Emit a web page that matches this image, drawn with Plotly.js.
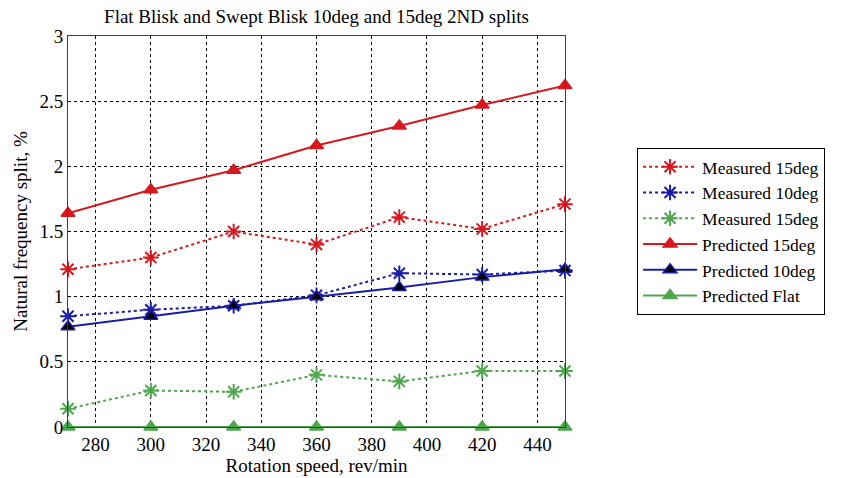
<!DOCTYPE html>
<html>
<head>
<meta charset="utf-8">
<script src="https://cdn.plot.ly/plotly-3.0.1.min.js"></script>
<style>
  html, body { margin: 0; padding: 0; background: #ffffff; }
  #chart { width: 847px; height: 478px; }
</style>
</head>
<body>
<div id="chart"></div>
<script>
// Rotation speed (rev/min)
const speeds = [270, 300, 330, 360, 390, 420, 450];

// Natural frequency split, %
const measured15 = [1.21, 1.30, 1.50, 1.40, 1.61, 1.52, 1.71];
const measured10 = [0.85, 0.90, 0.93, 1.01, 1.18, 1.17, 1.20];
const measuredFlat = [0.14, 0.28, 0.27, 0.40, 0.35, 0.43, 0.43];
const predicted15 = [1.64, 1.82, 1.97, 2.16, 2.31, 2.47, 2.62];
const predicted10 = [0.77, 0.85, 0.93, 1.00, 1.07, 1.15, 1.21];
const predictedFlat = [0, 0, 0, 0, 0, 0, 0];

const seriesNames = [
  'Measured 15deg', 'Measured 10deg', 'Measured 15deg',
  'Predicted 15deg', 'Predicted 10deg', 'Predicted Flat'
];

const RED = '#d7191f';
const BLUE = '#1c1ca6';
const GREEN = '#4ea64e';
const FONT = 'Liberation Serif, Times New Roman, serif';
const FS = 19;

function measured(y, name, color) {
  return {
    x: speeds, y: y, name: name, type: 'scatter', mode: 'lines+markers',
    cliponaxis: false,
    line: { color: color, width: 2, dash: 'dot' },
    marker: { symbol: 'asterisk-open', size: 13, color: color, line: { color: color, width: 2 } }
  };
}

function predicted(y, name, color, fill) {
  return {
    x: speeds, y: y, name: name, type: 'scatter', mode: 'lines+markers',
    cliponaxis: false,
    line: { color: color, width: 2 },
    marker: { symbol: 'triangle-up', size: 12, color: fill, line: { color: color, width: 1.5 } }
  };
}

const traces = [
  measured(measured15, seriesNames[0], RED),
  measured(measured10, seriesNames[1], BLUE),
  measured(measuredFlat, seriesNames[2], GREEN),
  predicted(predicted15, seriesNames[3], RED, RED),
  predicted(predicted10, seriesNames[4], BLUE, '#000000'),
  predicted(predictedFlat, seriesNames[5], GREEN, GREEN)
];

const layout = {
  width: 847, height: 478,
  paper_bgcolor: '#ffffff', plot_bgcolor: '#ffffff',
  font: { family: FONT, size: FS, color: '#000000' },
  margin: { l: 68, r: 282, t: 36, b: 51 },
  title: {
    text: 'Flat Blisk and Swept Blisk 10deg and 15deg 2ND splits',
    font: { family: FONT, size: FS, color: '#000000' },
    xref: 'paper', x: 0.5, xanchor: 'center',
    yref: 'container', y: 0.966, yanchor: 'middle'
  },
  xaxis: {
    range: [270, 450],
    tickmode: 'linear', tick0: 280, dtick: 20,
    showgrid: true, gridcolor: '#000000', gridwidth: 1, griddash: '3px,3px',
    showline: true, linecolor: '#404040', linewidth: 1, mirror: true,
    ticks: '', zeroline: false,
    tickfont: { family: FONT, size: FS },
    title: { text: 'Rotation speed, rev/min', font: { family: FONT, size: FS }, standoff: 4 }
  },
  yaxis: {
    range: [0, 3],
    tickmode: 'linear', tick0: 0, dtick: 0.5,
    showgrid: true, gridcolor: '#000000', gridwidth: 1, griddash: '3px,3px',
    showline: true, linecolor: '#404040', linewidth: 1, mirror: true,
    ticks: '', zeroline: false,
    tickfont: { family: FONT, size: FS },
    title: { text: 'Natural frequency split, %', font: { family: FONT, size: FS }, standoff: 6 }
  },
  legend: {
    x: 1.145, xanchor: 'left', y: 0.714, yanchor: 'top',
    bgcolor: '#ffffff', bordercolor: '#000000', borderwidth: 1,
    font: { family: FONT, size: 17.5 },
    tracegroupgap: 0, itemwidth: 54
  },
  showlegend: true
};

Plotly.newPlot('chart', traces, layout, { displayModeBar: false, staticPlot: true });
</script>
</body>
</html>
